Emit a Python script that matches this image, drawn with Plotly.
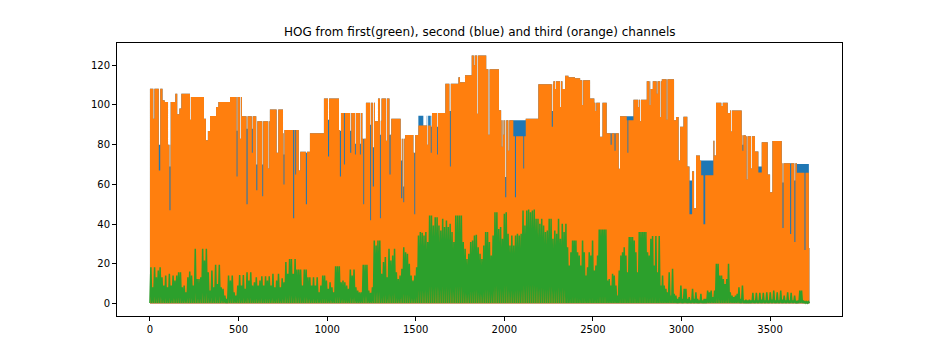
import numpy as np
import plotly.graph_objects as go

X_END = 3722

# Orange (third channel) envelope: block start index and block top value
ORANGE_BLOCK_X = [0, 71, 83, 102, 117, 143, 154, 166, 177, 230, 305, 316, 327, 339, 373, 386, 452, 519,
                  602, 677, 751, 758, 847, 903, 982, 1067, 1078, 1199, 1219, 1270, 1287, 1355, 1362,
                  1415, 1440, 1515, 1592, 1667, 1741, 1750, 1778, 1816, 1898, 1970, 1982, 2051, 2121,
                  2192, 2277, 2328, 2343, 2362, 2399, 2428, 2484, 2508, 2578, 2593, 2653, 2691, 2729,
                  2804, 2826, 2838, 2889, 2958, 2969, 2984, 2992, 3011, 3033, 3045, 3060, 3071, 3082,
                  3104, 3111, 3180, 3186, 3195, 3261, 3274, 3340, 3363, 3415, 3434, 3453, 3487, 3500,
                  3513, 3566, 3651, 3719]
ORANGE_BLOCK_Y = [108.2, 102.4, 101.5, 80.0, 101.5, 105.7, 95.3, 98.2, 105.7, 104.0, 93.0, 82.2, 86.9,
                  94.5, 99.0, 101.5, 104.0, 94.3, 91.8, 97.7, 85.7, 87.4, 76.4, 85.7, 103.2, 87.4, 96.0,
                  83.0, 101.1, 91.8, 103.2, 85.0, 93.1, 83.0, 84.9, 89.6, 96.0, 110.7, 114.0, 111.5,
                  114.9, 124.9, 118.0, 97.4, 92.3, 84.2, 93.1, 110.4, 112.0, 108.0, 114.7, 114.0, 113.5,
                  112.4, 103.2, 101.1, 85.7, 85.7, 94.3, 92.3, 102.6, 112.0, 108.0, 112.0, 113.0, 92.3,
                  94.0, 72.0, 89.0, 94.1, 69.0, 45.0, 66.6, 48.0, 74.5, 72.0, 64.6, 82.0, 74.5, 101.1,
                  96.0, 97.2, 84.7, 84.2, 76.6, 66.0, 81.2, 65.0, 56.0, 81.8, 70.6, 65.9, 28.0]

# Second channel (blue): spans where it rises above the orange envelope
BLUE_RAISE_X0 = [1515, 1562, 2051, 2691, 3045, 3111, 3434, 3651]
BLUE_RAISE_X1 = [1543, 1592, 2121, 2729, 3060, 3180, 3453, 3719]
BLUE_RAISE_Y = [94.6, 94.6, 92.3, 94.3, 62.0, 72.0, 69.0, 70.3]

# Narrow dips: position, width, orange level, blue level
DIP_X = [19, 50, 110, 226, 489, 508, 545, 575, 600, 634, 668, 715, 754, 808, 820, 840, 880, 1005,
         1072, 1095, 1130, 1157, 1185, 1204, 1243, 1258, 1298, 1302, 1332, 1352, 1418, 1430, 1487,
         1492, 1565, 1585, 1620, 1690, 1693, 1828, 1847, 1910, 1985, 1995, 2005, 2023, 2060, 2107,
         2268, 2286, 2315, 2440, 2514, 2540, 2549, 2600, 2622, 2646, 2695, 2756, 2766, 2820, 2860,
         2880, 2916, 3124, 3225, 3280, 3344, 3368, 3393, 3570, 3613, 3637, 3694]
DIP_W = [6, 8, 6, 5, 5, 5, 6, 5, 6, 5, 5, 9, 5, 6, 5, 8, 6, 6,
         6, 5, 6, 5, 5, 5, 5, 6, 5, 5, 5, 6, 6, 5, 8,
         5, 5, 5, 5, 5, 5, 5, 5, 7, 5, 5, 6, 5, 6, 5,
         6, 5, 5, 5, 5, 14, 5, 6, 6, 7, 5, 5, 5, 5, 5,
         5, 5, 10, 8, 5, 5, 5, 5, 6, 6, 6, 6]
DIP_ORANGE = [93, 67, 47, 92.6, 64, 83, 50, 76, 57, 54, 68, 76, 60, 43, 65, 67, 50, 74,
              64, 70, 76, 75, 75, 50, 42, 59, 43, 92, 82, 65, 53, 51, 76,
              45, 80, 76, 75, 97, 69, 120, 95.6, 85, 79, 85, 53.5, 77, 53.5, 68,
              89, 108, 99, 100, 97, 84, 93, 80, 77, 67.9, 76, 99, 91.8, 100, 105.7,
              94, 92.6, 40, 99.5, 86.7, 77, 62.5, 68, 38, 35, 31, 27]
DIP_BLUE = [93, 80, 69, 92.6, 87, 83, 88, 88, 70, 70, 68, 76, 75, 87.4, 87.4, 67, 76, 92.6,
            87, 96, 87, 80.5, 80.5, 83, 90, 78.7, 85, 92, 82, 85, 72, 59, 76,
            76, 80, 89, 89, 97, 97, 120, 95.6, 85, 79, 85, 63.7, 77, 92.3, 92.3,
            97, 108, 99, 100, 97, 84, 93, 85.7, 85.7, 67.9, 94.3, 99, 91.8, 100, 105.7,
            94, 92.6, 72, 99.5, 86.7, 80, 62.5, 68, 61, 70.6, 62, 70.3]

# First channel (green): spike tops read section by section
GREEN_SECTION_START = [0, 762, 1552, 2343, 3133]
GREEN_SECTION_END = [762, 1552, 2343, 3133, 3722]
GREEN_A = [18.3, 8.2, 18.3, 13.3, 16.7, 18.3, 13.3, 9.1, 14.1, 8.2, 15.0, 9.1, 14.1, 11.6, 14.1, 15.8,
           15.8, 8.2, 9.1, 5.7, 13.3, 16.1, 14.1, 9.1, 27.6, 12.4, 12.4, 13.3, 27.6, 21.7, 27.6, 15.8,
           6.6, 16.7, 8.2, 19.5, 9.9, 19.5, 8.2, 7.4, 4.0, 2.4, 14.1, 11.6, 14.1, 5.7, 4.0, 9.1, 14.4,
           9.1, 14.4, 7.4, 15.8, 11.6, 15.8, 9.1, 10.7, 13.3, 9.1, 11.6, 13.8, 9.1, 13.8, 11.6, 13.8,
           9.1, 15.0, 8.2, 11.6, 15.0, 8.2, 12.8, 10.7]
GREEN_B = [20.9, 15.0, 22.5, 22.5, 15.0, 22.5, 17.2, 17.2, 17.2, 9.1, 17.2, 17.2, 13.3, 13.3, 9.1, 13.3,
           9.1, 13.3, 5.7, 9.1, 14.1, 14.1, 11.6, 7.4, 10.7, 8.2, 5.7, 18.8, 18.8, 18.8, 10.7, 11.6,
           10.7, 9.1, 7.4, 17.2, 14.1, 17.2, 8.2, 6.6, 5.7, 5.7, 19.5, 19.5, 19.5, 6.6, 5.4, 8.2, 31.8,
           29.2, 31.8, 31.8, 15.0, 20.9, 23.4, 13.3, 27.6, 21.7, 24.2, 27.6, 15.8, 12.4, 14.1, 17.5,
           28.4, 25.9, 25.1, 20.0, 14.1, 11.6, 14.1, 18.3, 34.3, 36.0, 35.6, 34.3]
GREEN_C = [36.0, 31.0, 44.4, 44.4, 39.3, 43.5, 43.5, 39.3, 36.8, 42.7, 38.5, 41.8, 38.5, 40.2, 36.0,
           31.0, 44.4, 44.4, 44.4, 44.4, 31.0, 27.6, 22.5, 25.1, 31.0, 31.8, 34.3, 34.6, 28.4, 25.1,
           22.5, 29.2, 36.0, 36.0, 31.0, 24.2, 34.3, 46.0, 46.0, 37.6, 38.5, 32.6, 45.2, 46.0, 35.1,
           29.2, 34.3, 29.2, 34.3, 35.1, 34.3, 35.1, 46.9, 39.3, 46.9, 47.4, 46.0, 46.9, 47.4, 42.7,
           42.7, 40.2, 42.7, 39.3, 36.0, 36.8, 42.7, 42.7, 32.6, 36.8, 35.1, 42.7, 32.6, 40.2, 36.0]
GREEN_D = [40.2, 28.4, 19.2, 25.9, 31.8, 31.8, 31.8, 25.9, 24.2, 19.2, 31.8, 25.9, 14.1, 18.3, 25.9,
           24.2, 31.8, 16.7, 19.2, 24.2, 37.3, 37.3, 37.3, 37.3, 37.3, 11.6, 12.4, 9.1, 15.0, 14.1,
           9.1, 4.0, 16.7, 24.2, 25.9, 28.4, 24.2, 15.8, 33.5, 33.5, 33.5, 31.8, 25.9, 15.8, 36.0,
           36.0, 36.0, 36.0, 36.0, 25.9, 24.2, 32.6, 34.0, 19.2, 34.0, 15.8, 34.0, 9.1, 14.1, 9.1,
           7.4, 5.7, 15.8, 4.0, 17.5, 4.9, 4.0, 2.4, 3.2, 9.1, 2.4, 7.4, 7.4, 2.4, 3.2, 1.5, 7.4, 2.4,
           5.7, 2.4, 1.5, 4.9, 1.5, 2.4]
GREEN_E = [2.4, 6.6, 5.7, 6.6, 3.2, 6.6, 20.0, 20.0, 14.1, 14.1, 12.4, 9.9, 12.4, 20.0, 5.7, 4.0, 3.2,
           4.0, 4.9, 8.2, 2.4, 9.1, 1.5, 2.0, 1.5, 2.0, 1.5, 5.4, 1.5, 5.4, 1.5, 5.4, 2.0, 5.4, 1.5,
           5.7, 1.5, 5.7, 2.0, 6.6, 1.5, 5.7, 1.5, 6.6, 2.0, 4.0, 1.5, 5.7, 1.5, 5.4, 1.5, 4.0, 1.0,
           1.5, 6.6, 6.6, 1.5, 1.0, 1.0, 1.0]
GREEN_FLOOR = 0.3

X_TICKS = [0, 500, 1000, 1500, 2000, 2500, 3000, 3500]
Y_TICKS = [0, 20, 40, 60, 80, 100, 120]
TITLE = "HOG from first(green), second (blue) and third (orange) channels"

# ---- build step envelopes on the index grid ----
xs = np.arange(0, X_END + 1)
idx = np.searchsorted(np.array(ORANGE_BLOCK_X), xs, side="right") - 1
orange = np.array(ORANGE_BLOCK_Y)[idx].astype(float)
blue = orange.copy()
for a, b, v in zip(BLUE_RAISE_X0, BLUE_RAISE_X1, BLUE_RAISE_Y):
    m = (xs >= a) & (xs < b)
    blue[m] = np.maximum(blue[m], v)
for dx, w, o, bl in zip(DIP_X, DIP_W, DIP_ORANGE, DIP_BLUE):
    m = (xs >= dx) & (xs < dx + w)
    orange[m] = np.minimum(orange[m], o)
    blue[m] = np.minimum(blue[m], bl)

# ---- green zigzag ----
gx, gy = [], []
for s, e, vals in zip(GREEN_SECTION_START, GREEN_SECTION_END, [GREEN_A, GREEN_B, GREEN_C, GREEN_D, GREEN_E]):
    n = len(vals)
    step = (e - s) / n
    for i, v in enumerate(vals):
        gx.append(s + i * step)
        gy.append(GREEN_FLOOR)
        gx.append(s + (i + 0.5) * step)
        gy.append(v)
gx.append(GREEN_SECTION_END[-1])
gy.append(GREEN_FLOOR)

fig = go.Figure()
fig.add_trace(go.Scatter(x=xs, y=blue, mode="lines", line=dict(width=0, shape="hv", color="#1f77b4"),
                         fill="tozeroy", fillcolor="#1f77b4", hoverinfo="skip"))
fig.add_trace(go.Scatter(x=xs, y=orange, mode="lines", line=dict(width=0, shape="hv", color="#ff7f0e"),
                         fill="tozeroy", fillcolor="#ff7f0e", hoverinfo="skip"))
fig.add_trace(go.Scatter(x=gx, y=gy, mode="lines", line=dict(width=1.5, color="#2ca02c"), hoverinfo="skip"))

axis_common = dict(showline=True, linecolor="black", linewidth=1, mirror=True, ticks="outside",
                   ticklen=4, tickwidth=1, tickcolor="black", showgrid=False, zeroline=False,
                   tickfont=dict(family="DejaVu Sans", size=10, color="black"))
fig.update_xaxes(range=[-186, 3906], tickvals=X_TICKS, **axis_common)
fig.update_yaxes(range=[-6.25, 131.2], tickvals=Y_TICKS, **axis_common)

# the page body has an 8px margin, so the figure is 8px smaller and margins shifted
fig.update_layout(
    width=928, height=352,
    margin=dict(l=109, r=94, t=35, b=44),
    paper_bgcolor="white", plot_bgcolor="white",
    showlegend=False,
    font=dict(family="DejaVu Sans", size=10, color="black"),
    annotations=[dict(text=TITLE, x=0.5, xref="paper", y=1, yref="paper", yanchor="bottom",
                      xanchor="center", showarrow=False, yshift=2,
                      font=dict(family="DejaVu Sans", size=12, color="black"))],
)
fig.write_html("out.html")
